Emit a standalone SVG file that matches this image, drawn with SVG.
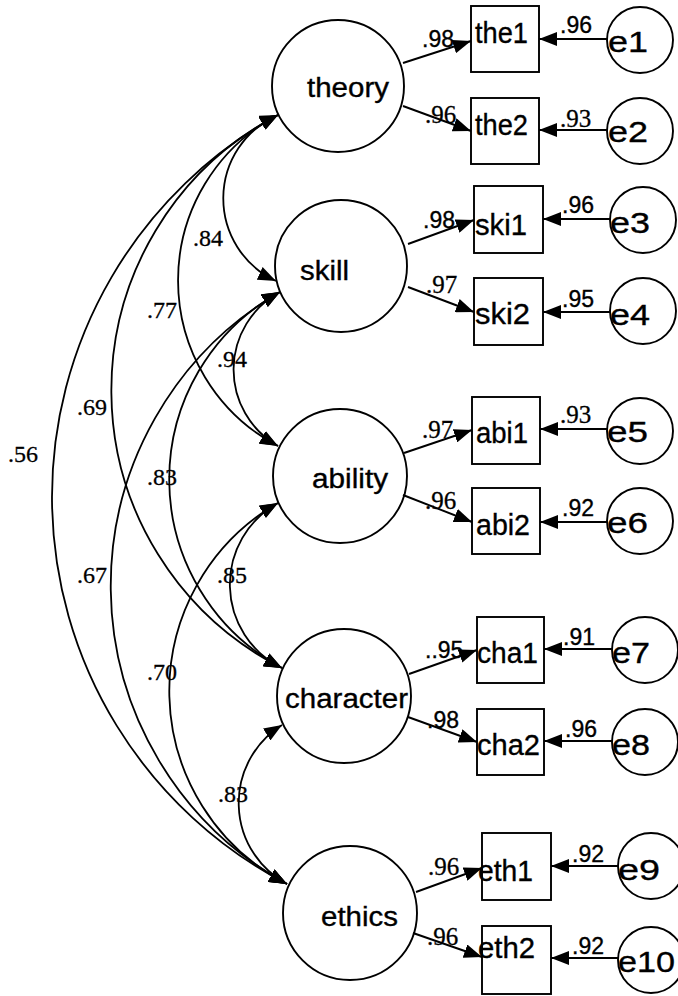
<svg xmlns="http://www.w3.org/2000/svg" width="678" height="996" viewBox="0 0 678 996">
<style>
.shape{fill:#fff;stroke:#000;stroke-width:1.9}
.line{fill:none;stroke:#000;stroke-width:1.9}
.cov{fill:none;stroke:#000;stroke-width:1.8;marker-start:url(#ah);marker-end:url(#ah)}
.one{marker-end:url(#ah)}
.sans{font-family:"Liberation Sans",Arial,sans-serif;fill:#000;stroke:#000;stroke-width:0.35}
.serif{font-family:"Liberation Serif","Times New Roman",serif;fill:#000;stroke:#000;stroke-width:0.3}
.lat{font-size:27px}
.obs{font-size:29px}
.err{font-size:30px}
.ls{font-size:23px}
.lr{font-size:25px}
.cv{font-size:24px}
</style>
<defs>
<marker id="ah" viewBox="0 0 18 14" refX="18" refY="7" markerWidth="18" markerHeight="14" markerUnits="userSpaceOnUse" orient="auto-start-reverse">
<path d="M0,0 L18,7 L0,14 z" fill="#000"/>
</marker>
</defs>
<rect width="678" height="996" fill="#fff"/>
<g id="theory"><circle class="shape" cx="338" cy="86" r="66"/><text class="sans lat" x="307" y="97" textLength="82" lengthAdjust="spacingAndGlyphs">theory</text></g>
<g id="skill"><circle class="shape" cx="341" cy="266" r="66"/><text class="sans lat" x="300" y="280" textLength="49" lengthAdjust="spacingAndGlyphs">skill</text></g>
<g id="ability"><circle class="shape" cx="340" cy="476" r="67"/><text class="sans lat" x="312" y="488" textLength="76" lengthAdjust="spacingAndGlyphs">ability</text></g>
<g id="character"><circle class="shape" cx="344" cy="696" r="67"/><text class="sans lat" x="285" y="708" textLength="123" lengthAdjust="spacingAndGlyphs">character</text></g>
<g id="ethics"><circle class="shape" cx="350" cy="913" r="67"/><text class="sans lat" x="321" y="926" textLength="77" lengthAdjust="spacingAndGlyphs">ethics</text></g>

<g id="the1"><rect class="shape" x="471" y="6" width="68" height="66"/><text class="sans obs" x="475" y="43" textLength="53" lengthAdjust="spacingAndGlyphs">the1</text></g>
<g id="the2"><rect class="shape" x="471" y="98" width="68" height="66"/><text class="sans obs" x="475" y="135" textLength="53" lengthAdjust="spacingAndGlyphs">the2</text></g>
<g id="ski1"><rect class="shape" x="474" y="186" width="69" height="67"/><text class="sans obs" x="475" y="235" textLength="52" lengthAdjust="spacingAndGlyphs">ski1</text></g>
<g id="ski2"><rect class="shape" x="474" y="278" width="69" height="67"/><text class="sans obs" x="475" y="324" textLength="55" lengthAdjust="spacingAndGlyphs">ski2</text></g>
<g id="abi1"><rect class="shape" x="472" y="397" width="68" height="67"/><text class="sans obs" x="476" y="443" textLength="52" lengthAdjust="spacingAndGlyphs">abi1</text></g>
<g id="abi2"><rect class="shape" x="472" y="488" width="68" height="66"/><text class="sans obs" x="476" y="535" textLength="54" lengthAdjust="spacingAndGlyphs">abi2</text></g>
<g id="cha1"><rect class="shape" x="477" y="617" width="67" height="66"/><text class="sans obs" x="477" y="663" textLength="61" lengthAdjust="spacingAndGlyphs">cha1</text></g>
<g id="cha2"><rect class="shape" x="477" y="709" width="67" height="66"/><text class="sans obs" x="477" y="755" textLength="63" lengthAdjust="spacingAndGlyphs">cha2</text></g>
<g id="eth1"><rect class="shape" x="482" y="833" width="69" height="67"/><text class="sans obs" x="478" y="881" textLength="55" lengthAdjust="spacingAndGlyphs">eth1</text></g>
<g id="eth2"><rect class="shape" x="482" y="926" width="69" height="68"/><text class="sans obs" x="478" y="958" textLength="57" lengthAdjust="spacingAndGlyphs">eth2</text></g>

<g id="e1"><circle class="shape" cx="640" cy="40" r="33"/><text class="sans err" x="608" y="52" textLength="40" lengthAdjust="spacingAndGlyphs">e1</text></g>
<g id="e2"><circle class="shape" cx="640" cy="131" r="33"/><text class="sans err" x="608" y="142" textLength="40" lengthAdjust="spacingAndGlyphs">e2</text></g>
<g id="e3"><circle class="shape" cx="643" cy="220" r="33"/><text class="sans err" x="610" y="233" textLength="40" lengthAdjust="spacingAndGlyphs">e3</text></g>
<g id="e4"><circle class="shape" cx="643" cy="311" r="33"/><text class="sans err" x="610" y="325" textLength="40" lengthAdjust="spacingAndGlyphs">e4</text></g>
<g id="e5"><circle class="shape" cx="640" cy="431" r="33"/><text class="sans err" x="607" y="442" textLength="41" lengthAdjust="spacingAndGlyphs">e5</text></g>
<g id="e6"><circle class="shape" cx="640" cy="521" r="33"/><text class="sans err" x="607" y="533" textLength="41" lengthAdjust="spacingAndGlyphs">e6</text></g>
<g id="e7"><circle class="shape" cx="645" cy="650" r="33"/><text class="sans err" x="612" y="663" textLength="38" lengthAdjust="spacingAndGlyphs">e7</text></g>
<g id="e8"><circle class="shape" cx="645" cy="742" r="33"/><text class="sans err" x="612" y="755" textLength="38" lengthAdjust="spacingAndGlyphs">e8</text></g>
<g id="e9"><circle class="shape" cx="651" cy="866" r="33"/><text class="sans err" x="618" y="880" textLength="42" lengthAdjust="spacingAndGlyphs">e9</text></g>
<g id="e10"><circle class="shape" cx="651" cy="960" r="33"/><text class="sans err" x="618" y="972" textLength="57" lengthAdjust="spacingAndGlyphs">e10</text></g>

<g id="connectors">
<path class="line one" d="M403,63 L471,41"/>
<path class="line one" d="M403,106 L471,131"/>
<path class="line one" d="M408,244 L474,220"/>
<path class="line one" d="M408,287 L474,312"/>
<path class="line one" d="M404,453 L472,430"/>
<path class="line one" d="M403,495 L472,522"/>
<path class="line one" d="M409,674 L477,650"/>
<path class="line one" d="M408,717 L477,742"/>
<path class="line one" d="M416,892 L482,868"/>
<path class="line one" d="M413,933 L482,957"/>

<path class="line one" d="M607,39 L539,39"/>
<path class="line one" d="M607,130 L539,130"/>
<path class="line one" d="M610,219 L543,219"/>
<path class="line one" d="M610,312 L543,312"/>
<path class="line one" d="M607,429 L540,429"/>
<path class="line one" d="M607,522 L540,522"/>
<path class="line one" d="M612,649 L544,649"/>
<path class="line one" d="M612,741 L544,741"/>
<path class="line one" d="M618,866 L551,866"/>
<path class="line one" d="M618,958 L551,958"/>

<path class="cov" d="M278,115 A91,91 0 0 0 276,281"/>
<path class="cov" d="M278,115 A187,187 0 0 0 278,446"/>
<path class="cov" d="M278,115 A311,311 0 0 0 282,668"/>
<path class="cov" d="M278,115 A436,436 0 0 0 287,884"/>
<path class="cov" d="M280,292 A88,88 0 0 0 278,446"/>
<path class="cov" d="M280,292 A214,214 0 0 0 282,668"/>
<path class="cov" d="M280,292 A340,340 0 0 0 287,884"/>
<path class="cov" d="M278,503 A93,93 0 0 0 282,668"/>
<path class="cov" d="M278,503 A217,217 0 0 0 287,884"/>
<path class="cov" d="M282,725 A92,92 0 0 0 287,884"/>
</g>

<g id="labels">
<text class="sans ls" x="422" y="47">.98</text>
<text class="serif lr" x="425" y="123">.96</text>
<text class="sans ls" x="423" y="228">.98</text>
<text class="serif lr" x="426" y="293">.97</text>
<text class="serif lr" x="422" y="438">.97</text>
<text class="serif lr" x="425" y="509">.96</text>
<text class="sans ls" x="425" y="658">..95</text>
<text class="sans ls" x="427" y="728">.98</text>
<text class="serif lr" x="428" y="875">.96</text>
<text class="serif lr" x="427" y="945">.96</text>

<text class="sans ls" x="560" y="33">.96</text>
<text class="serif lr" x="560" y="127">.93</text>
<text class="sans ls" x="562" y="213">.96</text>
<text class="sans ls" x="562" y="307">.95</text>
<text class="serif lr" x="560" y="423">.93</text>
<text class="sans ls" x="562" y="516">.92</text>
<text class="sans ls" x="563" y="645">.91</text>
<text class="sans ls" x="565" y="737">.96</text>
<text class="sans ls" x="572" y="862">.92</text>
<text class="sans ls" x="572" y="954">.92</text>

<text class="serif cv" x="193" y="246">.84</text>
<text class="serif cv" x="147" y="318">.77</text>
<text class="serif cv" x="217" y="367">.94</text>
<text class="serif cv" x="77" y="415">.69</text>
<text class="serif cv" x="8" y="462">.56</text>
<text class="serif cv" x="147" y="485">.83</text>
<text class="serif cv" x="77" y="583">.67</text>
<text class="serif cv" x="217" y="583">.85</text>
<text class="serif cv" x="147" y="680">.70</text>
<text class="serif cv" x="218" y="802">.83</text>
</g>
</svg>
